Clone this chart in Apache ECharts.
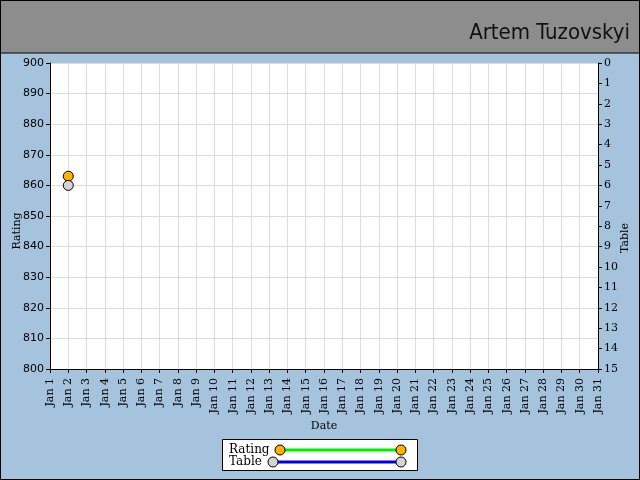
<!DOCTYPE html>
<html lang="en">
<head>
    <meta charset="UTF-8" />
    <title>Artem Tuzovskyi</title>
    <script src="https://cdn.jsdelivr.net/npm/echarts@6/dist/echarts.min.js"></script>
    <style>
        html, body { margin: 0; padding: 0; }
        #main { width: 640px; height: 480px; }
    </style>
</head>
<body>
<div id="main"></div>
<script>
    var dates = [];
    for (var d = 1; d <= 31; d++) dates.push('Jan ' + d);
    // one reading on Jan 2, everything else empty
    var ratingData = [null, 863];
    var tableData = [null, 6];

    var serif = '"DejaVu Serif", "Liberation Serif", serif';
    var sans = '"DejaVu Sans", sans-serif';

    var myChart = echarts.init(document.getElementById('main'));
    var option = {
        backgroundColor: '#a5c3dc',
        animation: false,
        grid: {
            left: 50, right: 42, top: 63, bottom: 111,
            containLabel: false,
            outerBoundsMode: 'none',
            show: true, backgroundColor: '#ffffff', borderWidth: 0
        },
        xAxis: {
            type: 'category',
            data: dates,
            boundaryGap: false,
            name: 'Date',
            nameLocation: 'middle',
            nameGap: 52,
            nameMoveOverlap: false,
            nameTextStyle: { fontFamily: serif, fontSize: 11, color: '#000' },
            axisLine: { onZero: false, lineStyle: { color: '#000' } },
            axisTick: { show: true, length: 4, interval: 0, lineStyle: { color: '#000' } },
            axisLabel: { rotate: 90, interval: 0, fontFamily: serif, fontSize: 11, color: '#000', margin: 9 },
            splitLine: { show: true, interval: 0, lineStyle: { color: '#dcdcdc' } }
        },
        yAxis: [
            {
                type: 'value',
                min: 800, max: 900, interval: 10,
                name: 'Rating',
                nameLocation: 'middle',
                nameGap: 27,
                nameMoveOverlap: false,
                nameTextStyle: { fontFamily: serif, fontSize: 11, color: '#000', padding: [0, 0, 0, -30] },
                axisLine: { show: true, lineStyle: { color: '#000' } },
                axisTick: { show: true, length: 4, lineStyle: { color: '#000' } },
                axisLabel: { fontFamily: sans, fontSize: 11, color: '#000', margin: 6 },
                splitLine: { show: true, lineStyle: { color: '#dcdcdc' } }
            },
            {
                type: 'value',
                min: 0, max: 15, interval: 1,
                inverse: true,
                position: 'right',
                name: 'Table',
                nameLocation: 'middle',
                nameGap: 22,
                nameMoveOverlap: false,
                nameTextStyle: { fontFamily: serif, fontSize: 11, color: '#000', padding: [0, 0, 0, -44] },
                axisLine: { show: true, lineStyle: { color: '#000' } },
                axisTick: { show: true, length: 4, lineStyle: { color: '#000' } },
                axisLabel: { fontFamily: serif, fontSize: 11, color: '#000', margin: 6 },
                splitLine: { show: false }
            }
        ],
        series: [
            {
                name: 'Rating',
                type: 'line',
                yAxisIndex: 0,
                data: ratingData,
                symbol: 'circle',
                symbolSize: 10,
                showAllSymbol: true,
                lineStyle: { color: '#00ee00', width: 3 },
                itemStyle: { color: '#ffb300', borderColor: '#000', borderWidth: 1 }
            },
            {
                name: 'Table',
                type: 'line',
                yAxisIndex: 1,
                data: tableData,
                symbol: 'circle',
                symbolSize: 10,
                showAllSymbol: true,
                lineStyle: { color: '#0000dd', width: 3 },
                itemStyle: { color: '#d3d3d3', borderColor: '#000', borderWidth: 1 }
            }
        ],
        graphic: [
            // header band
            { type: 'rect', shape: { x: 0, y: 0, width: 640, height: 53 },
              style: { fill: '#8d8d8d', stroke: '#000', lineWidth: 1 }, z: 100 },
            { type: 'text', right: 10, top: 22,
              style: { text: 'Artem Tuzovskyi', font: '22px "Liberation Sans Narrow", "DejaVu Sans Condensed", sans-serif', fill: '#111' }, z: 101 },
            // outer frame
            { type: 'rect', shape: { x: 0.5, y: 0.5, width: 639, height: 479 },
              style: { fill: 'none', stroke: '#000', lineWidth: 1 }, z: 100 },
            // legend box
            { type: 'rect', shape: { x: 222.5, y: 439.5, width: 195, height: 31 },
              style: { fill: '#fff', stroke: '#000', lineWidth: 1 }, z: 100 },
            { type: 'text', left: 229, top: 444,
              style: { text: 'Rating', font: '12px ' + serif, fill: '#000' }, z: 101 },
            { type: 'text', left: 229, top: 456,
              style: { text: 'Table', font: '12px ' + serif, fill: '#000' }, z: 101 },
            { type: 'line', shape: { x1: 280, y1: 450, x2: 401, y2: 450 },
              style: { stroke: '#00ee00', lineWidth: 3 }, z: 101 },
            { type: 'line', shape: { x1: 273, y1: 462, x2: 401, y2: 462 },
              style: { stroke: '#0000dd', lineWidth: 3 }, z: 101 },
            { type: 'circle', shape: { cx: 280, cy: 450, r: 5 },
              style: { fill: '#ffb300', stroke: '#000', lineWidth: 1 }, z: 102 },
            { type: 'circle', shape: { cx: 401, cy: 450, r: 5 },
              style: { fill: '#ffb300', stroke: '#000', lineWidth: 1 }, z: 102 },
            { type: 'circle', shape: { cx: 273, cy: 462, r: 5 },
              style: { fill: '#d3d3d3', stroke: '#000', lineWidth: 1 }, z: 102 },
            { type: 'circle', shape: { cx: 401, cy: 462, r: 5 },
              style: { fill: '#d3d3d3', stroke: '#000', lineWidth: 1 }, z: 102 }
        ]
    };
    myChart.setOption(option);
</script>
</body>
</html>
